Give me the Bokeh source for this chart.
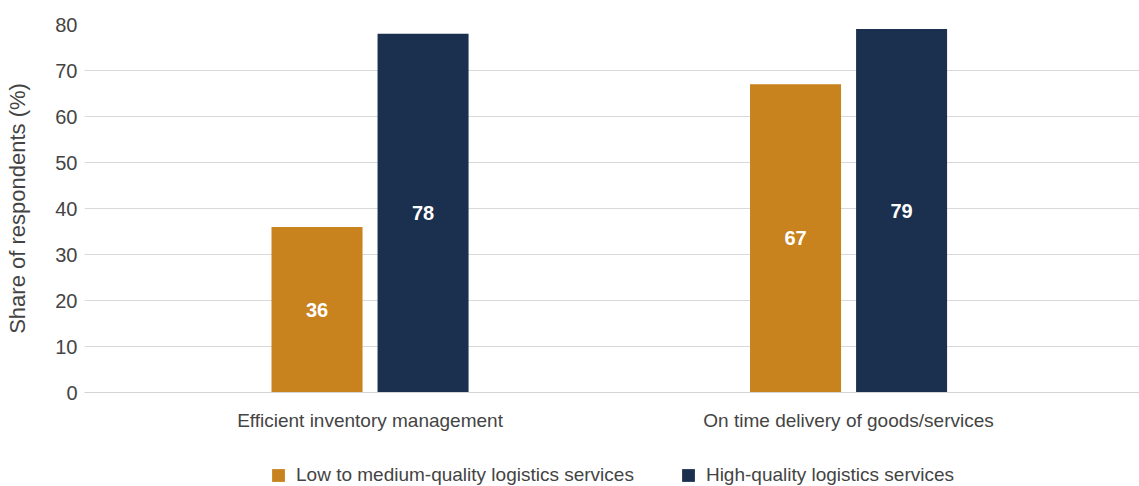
from bokeh.plotting import figure
from bokeh.layouts import column
from bokeh.models import ColumnDataSource, Range1d, FixedTicker, Legend, LegendItem, LabelSet
from bokeh.core.properties import value
from bokeh.embed import file_html
from bokeh.resources import INLINE

categories = ["Efficient inventory management", "On time delivery of goods/services"]
series_names = ["Low to medium-quality logistics services", "High-quality logistics services"]
low_medium = [36, 67]
high = [78, 79]
y_ticks = [0, 10, 20, 30, 40, 50, 60, 70, 80]

colors = ["#C8821E", "#1B2F4E"]
FONT = "Liberation Sans"
offset = 0.1108
bar_w = 0.1902

p = figure(width=1139, height=440, output_backend="svg", toolbar_location=None,
           x_range=Range1d(-0.5967, 1.608), y_range=Range1d(0, 80),
           min_border_left=84, min_border_right=0, min_border_top=24, min_border_bottom=48)
p.outline_line_color = None
p.background_fill_color = "white"
p.border_fill_color = "white"

idx = list(range(len(categories)))
sources = []
for k, (vals, col) in enumerate(zip([low_medium, high], colors)):
    xs = [i + (offset if k == 1 else -offset) for i in idx]
    src = ColumnDataSource(dict(x=xs, top=vals, mid=[v / 2 for v in vals], lab=[str(v) for v in vals]))
    sources.append(src)
    p.vbar(x="x", top="top", bottom=0, width=bar_w, source=src, fill_color=col, line_color=None)
    p.add_layout(LabelSet(x="x", y="mid", text="lab", source=src, text_align="center",
                          text_baseline="middle", text_color="white", text_font_style="bold",
                          text_font=value(FONT), text_font_size="20px"))

# y axis
p.yaxis.ticker = FixedTicker(ticks=y_ticks)
p.yaxis.axis_line_color = None
p.yaxis.major_tick_line_color = None
p.yaxis.major_tick_out = 0
p.yaxis.major_tick_in = 0
p.yaxis.minor_tick_line_color = None
p.yaxis.major_label_text_font = FONT
p.yaxis.major_label_text_font_size = "20px"
p.yaxis.major_label_text_color = "#444444"
p.yaxis.major_label_standoff = 7
p.yaxis.axis_label = "Share of respondents (%)"
p.yaxis.axis_label_text_font = FONT
p.yaxis.axis_label_text_font_size = "22px"
p.yaxis.axis_label_text_font_style = "normal"
p.yaxis.axis_label_text_color = "#444444"
p.yaxis.axis_label_standoff = 22

# x axis
p.xaxis.ticker = FixedTicker(ticks=idx)
p.xaxis.major_label_overrides = {i: c for i, c in zip(idx, categories)}
p.xaxis.axis_line_color = "#d4d4d4"
p.xaxis.major_tick_line_color = None
p.xaxis.major_tick_out = 0
p.xaxis.major_tick_in = 0
p.xaxis.minor_tick_line_color = None
p.xaxis.major_label_text_font = FONT
p.xaxis.major_label_text_font_size = "19px"
p.xaxis.major_label_text_color = "#444444"
p.xaxis.major_label_standoff = 17

p.xgrid.grid_line_color = None
p.ygrid.grid_line_color = "#d9d9d9"
p.ygrid.grid_line_width = 1

# legend strip
lf = figure(width=1139, height=46, output_backend="svg", toolbar_location=None,
            x_range=Range1d(0, 1), y_range=Range1d(0, 1),
            min_border_left=84, min_border_right=0, min_border_top=0, min_border_bottom=0)
lf.outline_line_color = None
lf.axis.visible = False
lf.grid.visible = False
items = []
for name, col, src in zip(series_names, colors, sources):
    r = lf.vbar(x="x", top="top", bottom=0, width=bar_w, source=src, fill_color=col, line_color=None)
    r.visible = False
    items.append(LegendItem(label=name, renderers=[r]))
legend = Legend(items=items, orientation="horizontal", location=(186, 0),
                label_text_font=FONT, label_text_font_size="19px", label_text_color="#444444",
                glyph_width=16, glyph_height=16, spacing=46, label_standoff=10,
                inactive_fill_alpha=0,
                border_line_color=None, background_fill_alpha=0, padding=0, margin=0)
lf.add_layout(legend)

layout = column(p, lf, spacing=0)
open("out.html", "w").write(file_html(layout, INLINE))
